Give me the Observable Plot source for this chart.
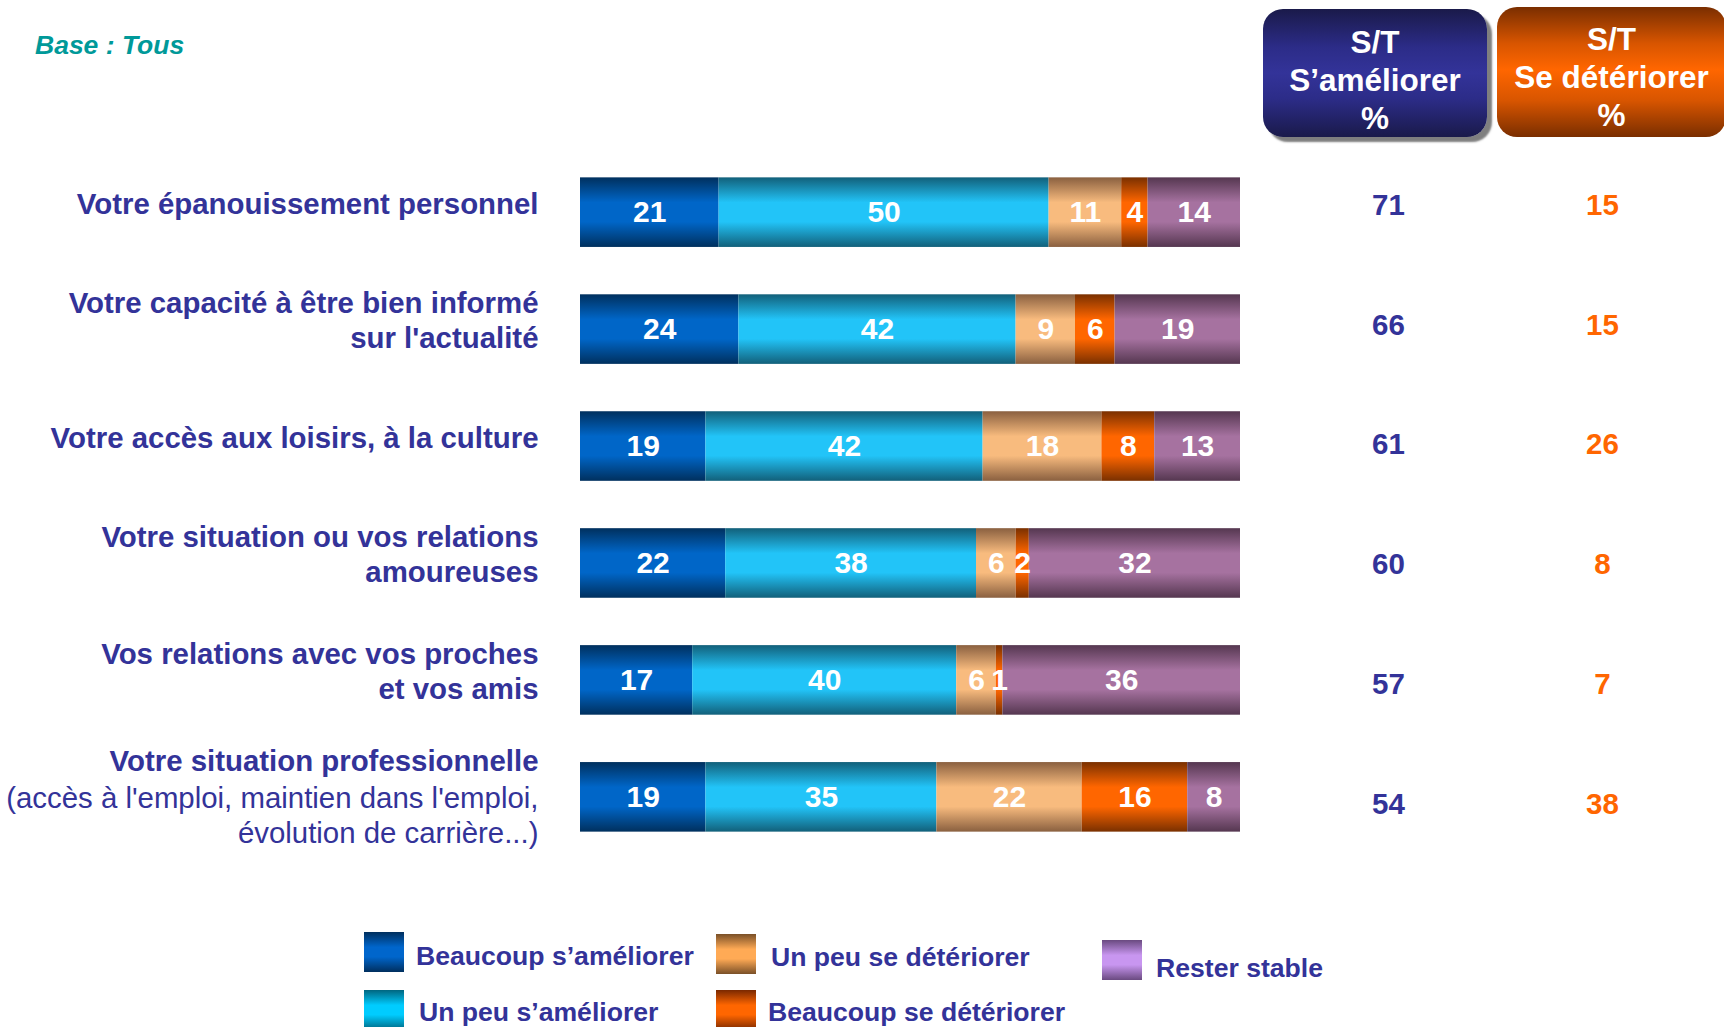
<!DOCTYPE html>
<html>
<head>
<meta charset="utf-8">
<script src="https://cdn.jsdelivr.net/npm/d3@7"></script>
<script src="https://cdn.jsdelivr.net/npm/@observablehq/plot@0.6"></script>
<style>
  body { margin: 0; background: #fff; font-family: "Liberation Sans", Arial, sans-serif; }
  #page { position: relative; width: 1724px; height: 1027px; overflow: hidden; background: #fff; }
  #chart { position: absolute; left: 0; top: 0; }
  .box { position: absolute; border-radius: 20px; color: #fff; font-weight: bold; font-size: 31.5px;
         line-height: 38px; text-align: center; box-sizing: border-box; white-space: nowrap; }
  .base { position: absolute; left: 35px; top: 32px; font-size: 26.5px; line-height: 26px; font-weight: bold;
          font-style: italic; color: #009999; white-space: nowrap; }
  .legtext { position: absolute; font-size: 26.6px; line-height: 26px; font-weight: bold; color: #333399; white-space: nowrap; }
  .swatch { position: absolute; width: 40px; height: 40px; }
</style>
</head>
<body>
<div id="page"><div id="chart"></div></div>
<script>
// ---------- data ----------
const labels = [
  "Votre épanouissement personnel",
  "Votre capacité à être bien informé\nsur l'actualité",
  "Votre accès aux loisirs, à la culture",
  "Votre situation ou vos relations\namoureuses",
  "Vos relations avec vos proches\net vos amis",
  "Votre situation professionnelle"
];
const subLabels = ["", "", "", "", "", "(accès à l'emploi, maintien dans l'emploi,\névolution de carrière...)"];
const series = ["Beaucoup s’améliorer", "Un peu s’améliorer", "Un peu se détériorer", "Beaucoup se détériorer", "Rester stable"];
const beaucoupAmeliorer  = [21, 24, 19, 22, 17, 19];
const unPeuAmeliorer     = [50, 42, 42, 38, 40, 35];
const unPeuDeteriorer    = [11,  9, 18,  6,  6, 22];
const beaucoupDeteriorer = [ 4,  6,  8,  2,  1, 16];
const resterStable       = [14, 19, 13, 32, 36,  8];
const stAmeliorer  = [71, 66, 61, 60, 57, 54];
const stDeteriorer = [15, 15, 26,  8,  7, 38];
const baseText = "Base : Tous";
const headerAmeliorer  = ["S/T", "S’améliorer", "%"];
const headerDeteriorer = ["S/T", "Se détériorer", "%"];

// ---------- styles ----------
const barColors = [ // [edge, middle]
  ["#00305e", "#0066c8"],
  ["#12607a", "#22c4f8"],
  ["#8a6040", "#f8bb7e"],
  ["#7a3000", "#ff6600"],
  ["#553750", "#a672a0"]
];
const legendColors = [
  ["#002f5e", "#0066cc"],
  ["#006680", "#00ccff"],
  ["#7a5028", "#ffaa55"],
  ["#7a2800", "#ff6600"],
  ["#6a4a80", "#c896f0"]
];
const legendLayout = [
  {sx: 364, sy: 932, tx: 416, tb: 965},
  {sx: 364, sy: 990, tx: 419, tb: 1021},
  {sx: 716, sy: 934, tx: 771, tb: 966},
  {sx: 716, sy: 990, tx: 768, tb: 1021},
  {sx: 1102, sy: 940, tx: 1156, tb: 977}
];
const navy = "#333399", orange = "#ff6600";
const FONT = "'Liberation Sans', Arial, sans-serif";
const LABEL_SIZE = 29.4;

// ---------- table ----------
const valueArrays = [beaucoupAmeliorer, unPeuAmeliorer, unPeuDeteriorer, beaucoupDeteriorer, resterStable];
const table = [];
labels.forEach((label, i) => {
  valueArrays.forEach((arr, si) => table.push({label, series: series[si], si, value: arr[i]}));
});
const rows = labels.map((label, i) => ({label, sub: subLabels[i], amel: stAmeliorer[i], det: stDeteriorer[i], i}));

const marks = [
  Plot.barX(table, Plot.stackX({
    x: "value", y: "label", fill: d => `url(#g${d.si})`, insetTop: 0, insetBottom: 0
  })),
  Plot.text(table, Plot.stackX({
    x: "value", y: "label", text: d => String(d.value),
    fill: "white", fontSize: 30, fontWeight: "bold"
  })),
  // bold labels, rows without sub labels
  Plot.text(rows.filter(r => !r.sub), {
    y: "label", text: "label", frameAnchor: "left", textAnchor: "end", dx: -42, dy: -10,
    lineHeight: 1.17, fill: navy, fontSize: LABEL_SIZE, fontWeight: "bold"
  }),
  // bold label of rows with sub label
  Plot.text(rows.filter(r => r.sub), {
    y: "label", text: "label", frameAnchor: "left", textAnchor: "end", dx: -42, dy: -36,
    fill: navy, fontSize: LABEL_SIZE, fontWeight: "bold"
  }),
  Plot.text(rows.filter(r => r.sub), {
    y: "label", text: "sub", frameAnchor: "left", textAnchor: "end", dx: -42, dy: 17,
    lineHeight: 1.2, fill: navy, fontSize: LABEL_SIZE, fontWeight: "normal"
  })
];
rows.forEach((r, i) => {
  marks.push(Plot.text([r], {
    y: "label", text: d => String(d.amel), frameAnchor: "right", textAnchor: "middle",
    dx: 148, dy: (i - 2.5) * 3,
    fill: navy, fontSize: 29.5, fontWeight: "bold"
  }));
  marks.push(Plot.text([r], {
    y: "label", text: d => String(d.det), frameAnchor: "right", textAnchor: "middle",
    dx: 362, dy: (i - 2.5) * 3,
    fill: orange, fontSize: 29.5, fontWeight: "bold"
  }));
});

const chart = Plot.plot({
  width: 1724,
  height: 1027,
  marginLeft: 580,
  marginRight: 484,
  marginTop: 130,
  marginBottom: 148,
  style: {fontFamily: FONT, background: "transparent", overflow: "visible"},
  x: {domain: [0, 100], axis: null},
  y: {domain: labels, axis: null, padding: 0.405, round: false},
  marks
});

// gradients for bars
const svg = d3.select(chart);
const defs = svg.insert("defs", ":first-child");
barColors.forEach(([edge, mid], i) => {
  const g = defs.append("linearGradient").attr("id", "g" + i)
    .attr("x1", 0).attr("y1", 0).attr("x2", 0).attr("y2", 1);
  g.append("stop").attr("offset", "0%").attr("stop-color", edge);
  g.append("stop").attr("offset", "36%").attr("stop-color", mid);
  g.append("stop").attr("offset", "64%").attr("stop-color", mid);
  g.append("stop").attr("offset", "100%").attr("stop-color", edge);
});
document.getElementById("chart").appendChild(chart);

const page = d3.select("#page");
// Base text
page.append("div").attr("class", "base").text(baseText);

// header boxes
function header(lines, left, top, width, height, pad, grad, shadow) {
  const b = page.append("div").attr("class", "box")
    .style("left", left + "px").style("top", top + "px")
    .style("width", width + "px").style("height", height + "px")
    .style("padding-top", pad + "px")
    .style("background", grad);
  if (shadow) b.style("box-shadow", shadow);
  lines.forEach(l => b.append("div").text(l));
}
header(headerAmeliorer, 1263, 9, 224, 128, 13.8,
  "linear-gradient(to bottom, #1a1a4a 0%, #2c2c88 30%, #333399 50%, #2c2c88 70%, #1a1a4a 100%)",
  "5px 5px 2px #7f7f7f");
header(headerDeteriorer, 1497, 7, 229, 130, 12.8,
  "linear-gradient(to bottom, #7a2e00 0%, #d85500 28%, #ff6600 48%, #d85500 72%, #7a2e00 100%)",
  null);

// legend
series.forEach((s, i) => {
  const L = legendLayout[i];
  const [edge, mid] = legendColors[i];
  page.append("div").attr("class", "swatch")
    .style("left", L.sx + "px").style("top", L.sy + "px")
    .style("background", `linear-gradient(to bottom, ${edge} 0%, ${mid} 38%, ${mid} 62%, ${edge} 100%)`);
  page.append("div").attr("class", "legtext")
    .style("left", L.tx + "px").style("top", (L.tb - 22) + "px")
    .text(s);
});
</script>
</body>
</html>
